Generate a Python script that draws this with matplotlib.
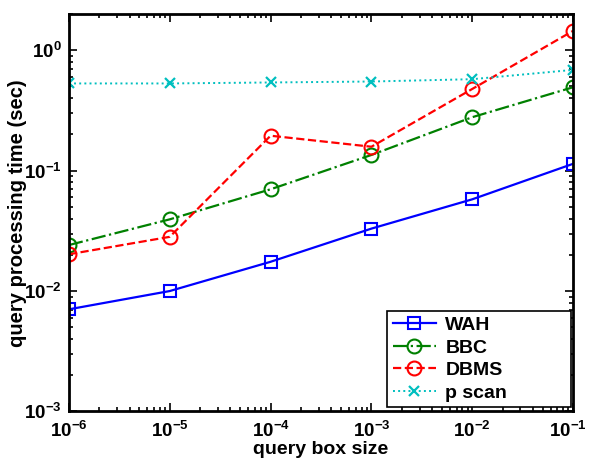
import matplotlib
matplotlib.use("Agg")
import matplotlib.pyplot as plt
import matplotlib.transforms as mtransforms
from matplotlib.ticker import LogLocator, NullFormatter

box_size = [1e-6, 1e-5, 1e-4, 1e-3, 1e-2, 1e-1]
wah = [0.00705, 0.0100, 0.0175, 0.0330, 0.0578, 0.114]
bbc = [0.0241, 0.0394, 0.0700, 0.135, 0.278, 0.493]
dbms = [0.0202, 0.0282, 0.195, 0.158, 0.477, 1.45]
pscan = [0.530, 0.530, 0.540, 0.550, 0.575, 0.687]

plt.rcParams["font.family"] = ["Liberation Sans", "DejaVu Sans"]
plt.rcParams["font.weight"] = "bold"
plt.rcParams["mathtext.default"] = "bf"

fig = plt.figure(figsize=(5.89, 4.67), dpi=100)
ax = fig.add_axes([0.117, 0.119, 0.856, 0.851])

ax.loglog(box_size, wah, "s-", color=(0, 0, 1), lw=1.6, ms=8, mfc="none", mew=1.5, label="WAH")
ax.loglog(box_size, bbc, "o-.", color=(0, 0.5, 0), lw=1.6, ms=10, mfc="none", mew=1.5, label="BBC")
ax.loglog(box_size, dbms, "o--", color=(1, 0, 0), lw=1.6, ms=10, mfc="none", mew=1.5, label="DBMS")
ax.loglog(box_size, pscan, "x:", color=(0, 0.75, 0.75), lw=1.4, ms=7, mew=1.6, label="p scan")

ax.set_xlim(1e-6, 1e-1)
ax.set_ylim(1e-3, 2.0)
ax.xaxis.set_minor_locator(LogLocator(base=10, subs=range(2, 10), numticks=20))
ax.yaxis.set_minor_locator(LogLocator(base=10, subs=range(2, 10), numticks=20))
ax.xaxis.set_minor_formatter(NullFormatter())
ax.yaxis.set_minor_formatter(NullFormatter())

ax.tick_params(which="both", direction="in", top=True, right=True, labelsize=13.5, width=1.2)
ax.tick_params(which="major", length=6)
ax.tick_params(which="minor", length=3)
ax.tick_params(axis="x", which="major", pad=7)
ax.tick_params(axis="y", which="major", pad=5)
for s in ax.spines.values():
    s.set_linewidth(2)

ax.set_xlabel("query box size", fontsize=14, fontweight="bold", labelpad=0)
ax.set_ylabel("query processing time (sec)", fontsize=14.5, fontweight="bold", labelpad=-2)

leg = ax.legend(loc="lower left", bbox_to_anchor=(0.631, 0.01, 0.365, 0.257), mode="expand",
                fontsize=14, fancybox=False, edgecolor="black", framealpha=1,
                borderaxespad=0, handlelength=2.2, handletextpad=0.5,
                labelspacing=0.25, borderpad=0.3)
leg.get_frame().set_linewidth(1.2)
for t in leg.get_texts():
    t.set_fontweight("bold")

# last x tick label sits right at the figure edge; nudge it in a little
fig.canvas.draw()
last = ax.xaxis.get_major_ticks()
last = [t for t in last if abs(t.get_loc() - box_size[-1]) < 1e-12][0]
last.label1.set_transform(last.label1.get_transform()
                          + mtransforms.ScaledTranslation(-4 / 72, 0, fig.dpi_scale_trans))

fig.savefig("out.png", dpi=100)
